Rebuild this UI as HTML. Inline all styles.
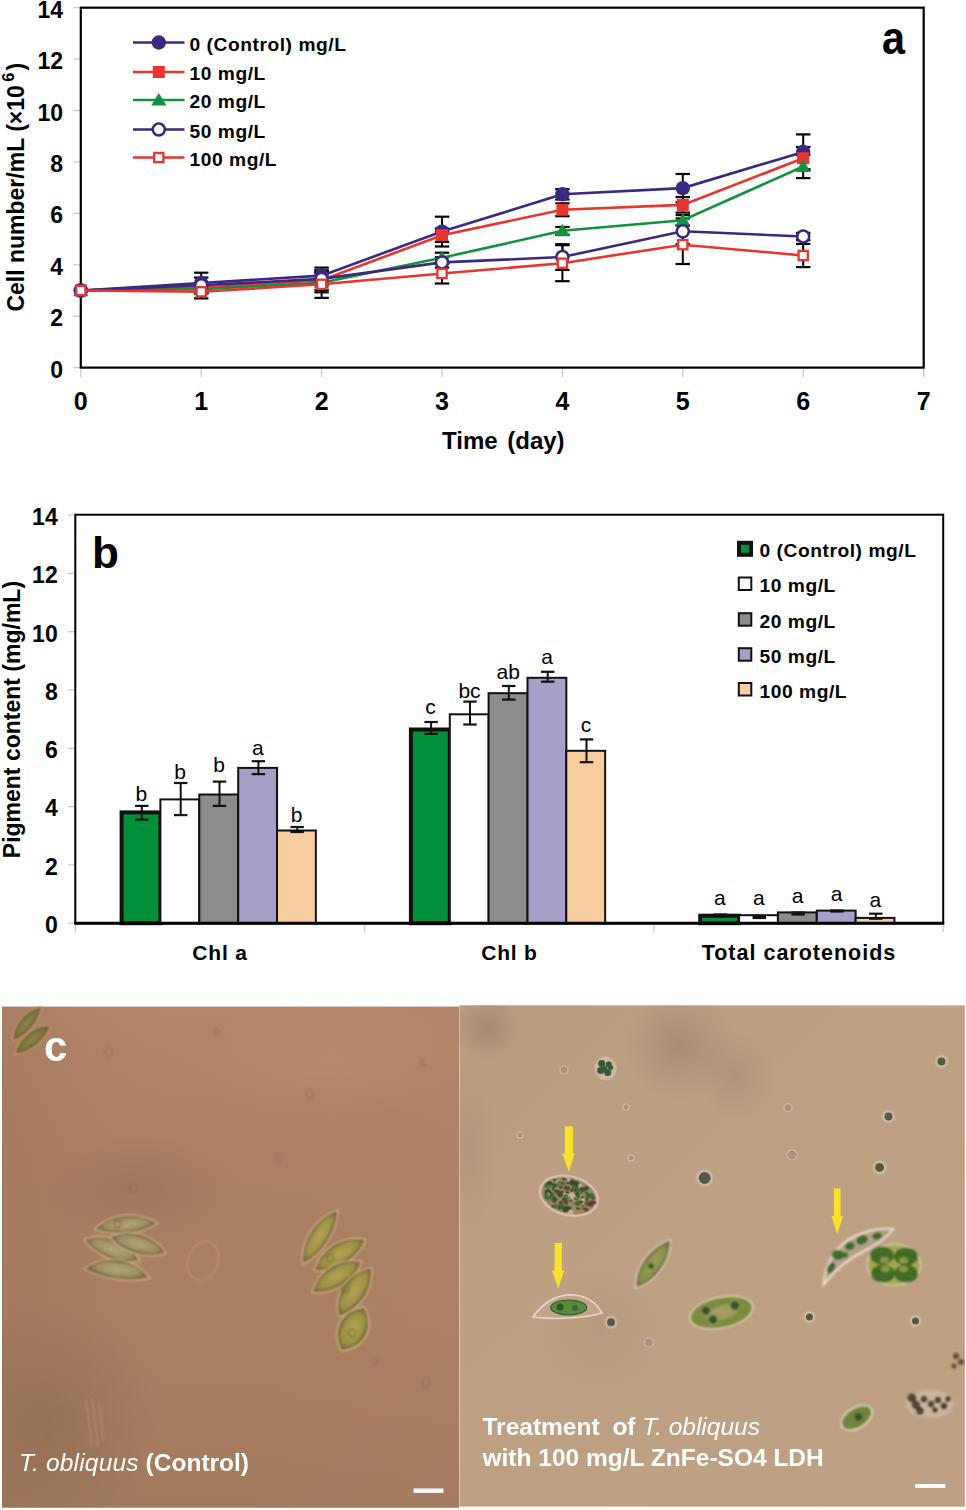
<!DOCTYPE html>
<html><head><meta charset="utf-8"><style>
html,body{margin:0;padding:0;background:#fff;width:966px;height:1510px;overflow:hidden}
svg{display:block}
.tb{font-family:"Liberation Sans",sans-serif;font-weight:bold}
.tr{font-family:"Liberation Sans",sans-serif}
</style></head><body>
<svg width="966" height="1510" viewBox="0 0 966 1510">
<defs>
<clipPath id="clipL"><rect x="2" y="1006.5" width="457.3" height="501.3"/></clipPath>
<clipPath id="clipR"><rect x="459.3" y="1005.2" width="505.6" height="501.6"/></clipPath>
<linearGradient id="glv" x1="0" y1="0" x2="0" y2="1"><stop offset="0" stop-color="#b88a6c" stop-opacity="0.6"/><stop offset="0.5" stop-color="#aa8062" stop-opacity="0"/><stop offset="1" stop-color="#9c7658" stop-opacity="0.6"/></linearGradient>
<linearGradient id="glh" x1="0" y1="0" x2="1" y2="0"><stop offset="0" stop-color="#90684c" stop-opacity="0.25"/><stop offset="0.4" stop-color="#aa8062" stop-opacity="0"/><stop offset="1" stop-color="#b08468" stop-opacity="0.2"/></linearGradient>
<linearGradient id="grv" x1="0" y1="0" x2="1" y2="1"><stop offset="0" stop-color="#b09070" stop-opacity="0.3"/><stop offset="0.5" stop-color="#bb9d7f" stop-opacity="0"/><stop offset="1" stop-color="#c0a284" stop-opacity="0.3"/></linearGradient>
<radialGradient id="rdark"><stop offset="0" stop-color="#7a5a40" stop-opacity="1"/><stop offset="1" stop-color="#7a5a40" stop-opacity="0"/></radialGradient>
<radialGradient id="rlight"><stop offset="0" stop-color="#c89a78" stop-opacity="1"/><stop offset="1" stop-color="#c89a78" stop-opacity="0"/></radialGradient>
<radialGradient id="rdark2"><stop offset="0" stop-color="#8a7560" stop-opacity="1"/><stop offset="1" stop-color="#8a7560" stop-opacity="0"/></radialGradient>
<radialGradient id="cg3"><stop offset="0" stop-color="#a0a060"/><stop offset="0.7" stop-color="#889048"/><stop offset="1" stop-color="#5a6a30"/></radialGradient>
<radialGradient id="cg0"><stop offset="0" stop-color="#8e8644"/><stop offset="0.7" stop-color="#7a7440"/><stop offset="1" stop-color="#5e5836"/></radialGradient>
<radialGradient id="cg1"><stop offset="0" stop-color="#b4a47a"/><stop offset="0.7" stop-color="#9e9060"/><stop offset="1" stop-color="#6e6444"/></radialGradient>
<radialGradient id="cg2"><stop offset="0" stop-color="#b4a452"/><stop offset="0.7" stop-color="#9c9244"/><stop offset="1" stop-color="#646030"/></radialGradient>
<filter id="b20" x="-50%" y="-50%" width="200%" height="200%"><feGaussianBlur stdDeviation="20"/></filter>
<filter id="b12" x="-50%" y="-50%" width="200%" height="200%"><feGaussianBlur stdDeviation="12"/></filter>
<filter id="b1" x="-50%" y="-50%" width="200%" height="200%"><feGaussianBlur stdDeviation="1"/></filter>
<filter id="b08" x="-20%" y="-20%" width="140%" height="140%"><feGaussianBlur stdDeviation="0.8"/></filter>
<filter id="b06" x="-20%" y="-20%" width="140%" height="140%"><feGaussianBlur stdDeviation="0.6"/></filter>
</defs>
<g id="chartA">
<line x1="73.5" y1="367.6" x2="80" y2="367.6" stroke="#c8c8c8" stroke-width="1.2"/>
<text x="63" y="377.7" text-anchor="end" class="tb" font-size="23">0</text>
<line x1="73.5" y1="316.2" x2="80" y2="316.2" stroke="#c8c8c8" stroke-width="1.2"/>
<text x="63" y="326.3" text-anchor="end" class="tb" font-size="23">2</text>
<line x1="73.5" y1="264.8" x2="80" y2="264.8" stroke="#c8c8c8" stroke-width="1.2"/>
<text x="63" y="274.9" text-anchor="end" class="tb" font-size="23">4</text>
<line x1="73.5" y1="213.3" x2="80" y2="213.3" stroke="#c8c8c8" stroke-width="1.2"/>
<text x="63" y="223.4" text-anchor="end" class="tb" font-size="23">6</text>
<line x1="73.5" y1="161.9" x2="80" y2="161.9" stroke="#c8c8c8" stroke-width="1.2"/>
<text x="63" y="172.0" text-anchor="end" class="tb" font-size="23">8</text>
<line x1="73.5" y1="110.5" x2="80" y2="110.5" stroke="#c8c8c8" stroke-width="1.2"/>
<text x="63" y="120.6" text-anchor="end" class="tb" font-size="23">10</text>
<line x1="73.5" y1="59.1" x2="80" y2="59.1" stroke="#c8c8c8" stroke-width="1.2"/>
<text x="63" y="69.2" text-anchor="end" class="tb" font-size="23">12</text>
<line x1="73.5" y1="7.7" x2="80" y2="7.7" stroke="#c8c8c8" stroke-width="1.2"/>
<text x="63" y="17.8" text-anchor="end" class="tb" font-size="23">14</text>
<line x1="80.8" y1="369" x2="80.8" y2="377" stroke="#c8c8c8" stroke-width="1.2"/>
<text x="80.8" y="409.5" text-anchor="middle" class="tb" font-size="25">0</text>
<line x1="201.2" y1="369" x2="201.2" y2="377" stroke="#c8c8c8" stroke-width="1.2"/>
<text x="201.2" y="409.5" text-anchor="middle" class="tb" font-size="25">1</text>
<line x1="321.6" y1="369" x2="321.6" y2="377" stroke="#c8c8c8" stroke-width="1.2"/>
<text x="321.6" y="409.5" text-anchor="middle" class="tb" font-size="25">2</text>
<line x1="442.0" y1="369" x2="442.0" y2="377" stroke="#c8c8c8" stroke-width="1.2"/>
<text x="442.0" y="409.5" text-anchor="middle" class="tb" font-size="25">3</text>
<line x1="562.4" y1="369" x2="562.4" y2="377" stroke="#c8c8c8" stroke-width="1.2"/>
<text x="562.4" y="409.5" text-anchor="middle" class="tb" font-size="25">4</text>
<line x1="682.8" y1="369" x2="682.8" y2="377" stroke="#c8c8c8" stroke-width="1.2"/>
<text x="682.8" y="409.5" text-anchor="middle" class="tb" font-size="25">5</text>
<line x1="803.2" y1="369" x2="803.2" y2="377" stroke="#c8c8c8" stroke-width="1.2"/>
<text x="803.2" y="409.5" text-anchor="middle" class="tb" font-size="25">6</text>
<line x1="923.6" y1="369" x2="923.6" y2="377" stroke="#c8c8c8" stroke-width="1.2"/>
<text x="923.6" y="409.5" text-anchor="middle" class="tb" font-size="25">7</text>
<rect x="80.8" y="7.7" width="842.9" height="359.9" fill="none" stroke="#000" stroke-width="2.2"/>
<text transform="translate(882,54) scale(0.9,1)" class="tb" font-size="46">a</text>
<text x="442" y="449.2" class="tb" font-size="24">Time <tspan dx="3">(day)</tspan></text>
<text transform="translate(24.4,311.6) rotate(-90)" class="tb" font-size="23">Cell number/mL (×10<tspan font-size="16.5" dx="3.5" dy="-10.5">6</tspan><tspan dx="2" dy="10.5">)</tspan></text>
<line x1="201.2" y1="272.7" x2="201.2" y2="293.3" stroke="#000" stroke-width="2"/>
<line x1="194.0" y1="272.7" x2="208.4" y2="272.7" stroke="#000" stroke-width="2.2"/>
<line x1="194.0" y1="293.3" x2="208.4" y2="293.3" stroke="#000" stroke-width="2.2"/>
<line x1="321.6" y1="267.6" x2="321.6" y2="283.5" stroke="#000" stroke-width="2"/>
<line x1="314.4" y1="267.6" x2="328.8" y2="267.6" stroke="#000" stroke-width="2.2"/>
<line x1="314.4" y1="283.5" x2="328.8" y2="283.5" stroke="#000" stroke-width="2.2"/>
<line x1="442.0" y1="216.7" x2="442.0" y2="246.5" stroke="#000" stroke-width="2"/>
<line x1="434.8" y1="216.7" x2="449.2" y2="216.7" stroke="#000" stroke-width="2.2"/>
<line x1="434.8" y1="246.5" x2="449.2" y2="246.5" stroke="#000" stroke-width="2.2"/>
<line x1="562.4" y1="189.2" x2="562.4" y2="199.5" stroke="#000" stroke-width="2"/>
<line x1="555.2" y1="189.2" x2="569.6" y2="189.2" stroke="#000" stroke-width="2.2"/>
<line x1="555.2" y1="199.5" x2="569.6" y2="199.5" stroke="#000" stroke-width="2.2"/>
<line x1="682.8" y1="174.0" x2="682.8" y2="202.3" stroke="#000" stroke-width="2"/>
<line x1="675.6" y1="174.0" x2="690.0" y2="174.0" stroke="#000" stroke-width="2.2"/>
<line x1="675.6" y1="202.3" x2="690.0" y2="202.3" stroke="#000" stroke-width="2.2"/>
<line x1="803.2" y1="134.4" x2="803.2" y2="169.4" stroke="#000" stroke-width="2"/>
<line x1="796.0" y1="134.4" x2="810.4" y2="134.4" stroke="#000" stroke-width="2.2"/>
<line x1="796.0" y1="169.4" x2="810.4" y2="169.4" stroke="#000" stroke-width="2.2"/>
<line x1="201.2" y1="284.0" x2="201.2" y2="291.8" stroke="#000" stroke-width="2"/>
<line x1="194.0" y1="284.0" x2="208.4" y2="284.0" stroke="#000" stroke-width="2.2"/>
<line x1="194.0" y1="291.8" x2="208.4" y2="291.8" stroke="#000" stroke-width="2.2"/>
<line x1="321.6" y1="270.4" x2="321.6" y2="290.0" stroke="#000" stroke-width="2"/>
<line x1="314.4" y1="270.4" x2="328.8" y2="270.4" stroke="#000" stroke-width="2.2"/>
<line x1="314.4" y1="290.0" x2="328.8" y2="290.0" stroke="#000" stroke-width="2.2"/>
<line x1="442.0" y1="228.5" x2="442.0" y2="241.9" stroke="#000" stroke-width="2"/>
<line x1="434.8" y1="228.5" x2="449.2" y2="228.5" stroke="#000" stroke-width="2.2"/>
<line x1="434.8" y1="241.9" x2="449.2" y2="241.9" stroke="#000" stroke-width="2.2"/>
<line x1="562.4" y1="203.3" x2="562.4" y2="216.2" stroke="#000" stroke-width="2"/>
<line x1="555.2" y1="203.3" x2="569.6" y2="203.3" stroke="#000" stroke-width="2.2"/>
<line x1="555.2" y1="216.2" x2="569.6" y2="216.2" stroke="#000" stroke-width="2.2"/>
<line x1="682.8" y1="197.1" x2="682.8" y2="212.6" stroke="#000" stroke-width="2"/>
<line x1="675.6" y1="197.1" x2="690.0" y2="197.1" stroke="#000" stroke-width="2.2"/>
<line x1="675.6" y1="212.6" x2="690.0" y2="212.6" stroke="#000" stroke-width="2.2"/>
<line x1="803.2" y1="147.0" x2="803.2" y2="169.6" stroke="#000" stroke-width="2"/>
<line x1="796.0" y1="147.0" x2="810.4" y2="147.0" stroke="#000" stroke-width="2.2"/>
<line x1="796.0" y1="169.6" x2="810.4" y2="169.6" stroke="#000" stroke-width="2.2"/>
<line x1="201.2" y1="286.6" x2="201.2" y2="291.8" stroke="#000" stroke-width="2"/>
<line x1="194.0" y1="286.6" x2="208.4" y2="286.6" stroke="#000" stroke-width="2.2"/>
<line x1="194.0" y1="291.8" x2="208.4" y2="291.8" stroke="#000" stroke-width="2.2"/>
<line x1="321.6" y1="273.2" x2="321.6" y2="292.3" stroke="#000" stroke-width="2"/>
<line x1="314.4" y1="273.2" x2="328.8" y2="273.2" stroke="#000" stroke-width="2.2"/>
<line x1="314.4" y1="292.3" x2="328.8" y2="292.3" stroke="#000" stroke-width="2.2"/>
<line x1="442.0" y1="252.7" x2="442.0" y2="263.0" stroke="#000" stroke-width="2"/>
<line x1="434.8" y1="252.7" x2="449.2" y2="252.7" stroke="#000" stroke-width="2.2"/>
<line x1="434.8" y1="263.0" x2="449.2" y2="263.0" stroke="#000" stroke-width="2.2"/>
<line x1="562.4" y1="227.0" x2="562.4" y2="234.7" stroke="#000" stroke-width="2"/>
<line x1="555.2" y1="227.0" x2="569.6" y2="227.0" stroke="#000" stroke-width="2.2"/>
<line x1="555.2" y1="234.7" x2="569.6" y2="234.7" stroke="#000" stroke-width="2.2"/>
<line x1="682.8" y1="215.1" x2="682.8" y2="225.4" stroke="#000" stroke-width="2"/>
<line x1="675.6" y1="215.1" x2="690.0" y2="215.1" stroke="#000" stroke-width="2.2"/>
<line x1="675.6" y1="225.4" x2="690.0" y2="225.4" stroke="#000" stroke-width="2.2"/>
<line x1="803.2" y1="155.0" x2="803.2" y2="178.1" stroke="#000" stroke-width="2"/>
<line x1="796.0" y1="155.0" x2="810.4" y2="155.0" stroke="#000" stroke-width="2.2"/>
<line x1="796.0" y1="178.1" x2="810.4" y2="178.1" stroke="#000" stroke-width="2.2"/>
<line x1="201.2" y1="277.6" x2="201.2" y2="293.0" stroke="#000" stroke-width="2"/>
<line x1="194.0" y1="277.6" x2="208.4" y2="277.6" stroke="#000" stroke-width="2.2"/>
<line x1="194.0" y1="293.0" x2="208.4" y2="293.0" stroke="#000" stroke-width="2.2"/>
<line x1="321.6" y1="272.5" x2="321.6" y2="285.3" stroke="#000" stroke-width="2"/>
<line x1="314.4" y1="272.5" x2="328.8" y2="272.5" stroke="#000" stroke-width="2.2"/>
<line x1="314.4" y1="285.3" x2="328.8" y2="285.3" stroke="#000" stroke-width="2.2"/>
<line x1="442.0" y1="257.3" x2="442.0" y2="267.6" stroke="#000" stroke-width="2"/>
<line x1="434.8" y1="257.3" x2="449.2" y2="257.3" stroke="#000" stroke-width="2.2"/>
<line x1="434.8" y1="267.6" x2="449.2" y2="267.6" stroke="#000" stroke-width="2.2"/>
<line x1="562.4" y1="244.2" x2="562.4" y2="269.9" stroke="#000" stroke-width="2"/>
<line x1="555.2" y1="244.2" x2="569.6" y2="244.2" stroke="#000" stroke-width="2.2"/>
<line x1="555.2" y1="269.9" x2="569.6" y2="269.9" stroke="#000" stroke-width="2.2"/>
<line x1="682.8" y1="218.5" x2="682.8" y2="244.2" stroke="#000" stroke-width="2"/>
<line x1="675.6" y1="218.5" x2="690.0" y2="218.5" stroke="#000" stroke-width="2.2"/>
<line x1="675.6" y1="244.2" x2="690.0" y2="244.2" stroke="#000" stroke-width="2.2"/>
<line x1="803.2" y1="232.9" x2="803.2" y2="240.1" stroke="#000" stroke-width="2"/>
<line x1="796.0" y1="232.9" x2="810.4" y2="232.9" stroke="#000" stroke-width="2.2"/>
<line x1="796.0" y1="240.1" x2="810.4" y2="240.1" stroke="#000" stroke-width="2.2"/>
<line x1="201.2" y1="285.1" x2="201.2" y2="298.4" stroke="#000" stroke-width="2"/>
<line x1="194.0" y1="285.1" x2="208.4" y2="285.1" stroke="#000" stroke-width="2.2"/>
<line x1="194.0" y1="298.4" x2="208.4" y2="298.4" stroke="#000" stroke-width="2.2"/>
<line x1="321.6" y1="270.7" x2="321.6" y2="297.9" stroke="#000" stroke-width="2"/>
<line x1="314.4" y1="270.7" x2="328.8" y2="270.7" stroke="#000" stroke-width="2.2"/>
<line x1="314.4" y1="297.9" x2="328.8" y2="297.9" stroke="#000" stroke-width="2.2"/>
<line x1="442.0" y1="263.5" x2="442.0" y2="283.5" stroke="#000" stroke-width="2"/>
<line x1="434.8" y1="263.5" x2="449.2" y2="263.5" stroke="#000" stroke-width="2.2"/>
<line x1="434.8" y1="283.5" x2="449.2" y2="283.5" stroke="#000" stroke-width="2.2"/>
<line x1="562.4" y1="245.2" x2="562.4" y2="281.2" stroke="#000" stroke-width="2"/>
<line x1="555.2" y1="245.2" x2="569.6" y2="245.2" stroke="#000" stroke-width="2.2"/>
<line x1="555.2" y1="281.2" x2="569.6" y2="281.2" stroke="#000" stroke-width="2.2"/>
<line x1="682.8" y1="225.4" x2="682.8" y2="264.0" stroke="#000" stroke-width="2"/>
<line x1="675.6" y1="225.4" x2="690.0" y2="225.4" stroke="#000" stroke-width="2.2"/>
<line x1="675.6" y1="264.0" x2="690.0" y2="264.0" stroke="#000" stroke-width="2.2"/>
<line x1="803.2" y1="243.9" x2="803.2" y2="267.1" stroke="#000" stroke-width="2"/>
<line x1="796.0" y1="243.9" x2="810.4" y2="243.9" stroke="#000" stroke-width="2.2"/>
<line x1="796.0" y1="267.1" x2="810.4" y2="267.1" stroke="#000" stroke-width="2.2"/>
<polyline points="80.8,290.5 201.2,283.0 321.6,275.6 442.0,231.6 562.4,194.3 682.8,188.1 803.2,151.9" fill="none" stroke="#3c2880" stroke-width="2.6"/>
<circle cx="80.8" cy="290.5" r="7.2" fill="#3c2880"/>
<circle cx="201.2" cy="283.0" r="7.2" fill="#3c2880"/>
<circle cx="321.6" cy="275.6" r="7.2" fill="#3c2880"/>
<circle cx="442.0" cy="231.6" r="7.2" fill="#3c2880"/>
<circle cx="562.4" cy="194.3" r="7.2" fill="#3c2880"/>
<circle cx="682.8" cy="188.1" r="7.2" fill="#3c2880"/>
<circle cx="803.2" cy="151.9" r="7.2" fill="#3c2880"/>
<polyline points="80.8,290.5 201.2,287.9 321.6,280.2 442.0,235.2 562.4,209.7 682.8,204.9 803.2,158.3" fill="none" stroke="#e8352f" stroke-width="2.6"/>
<rect x="74.8" y="284.5" width="12" height="12" fill="#e8352f"/>
<rect x="195.2" y="281.9" width="12" height="12" fill="#e8352f"/>
<rect x="315.6" y="274.2" width="12" height="12" fill="#e8352f"/>
<rect x="436.0" y="229.2" width="12" height="12" fill="#e8352f"/>
<rect x="556.4" y="203.7" width="12" height="12" fill="#e8352f"/>
<rect x="676.8" y="198.9" width="12" height="12" fill="#e8352f"/>
<rect x="797.2" y="152.3" width="12" height="12" fill="#e8352f"/>
<polyline points="80.8,290.5 201.2,289.2 321.6,282.8 442.0,257.8 562.4,230.8 682.8,220.3 803.2,166.5" fill="none" stroke="#10923f" stroke-width="2.6"/>
<path d="M80.8,283.5 L88.3,296.0 L73.3,296.0Z" fill="#10923f"/>
<path d="M201.2,282.2 L208.7,294.7 L193.7,294.7Z" fill="#10923f"/>
<path d="M321.6,275.8 L329.1,288.3 L314.1,288.3Z" fill="#10923f"/>
<path d="M442.0,250.8 L449.5,263.3 L434.5,263.3Z" fill="#10923f"/>
<path d="M562.4,223.8 L569.9,236.3 L554.9,236.3Z" fill="#10923f"/>
<path d="M682.8,213.3 L690.3,225.8 L675.3,225.8Z" fill="#10923f"/>
<path d="M803.2,159.5 L810.7,172.0 L795.7,172.0Z" fill="#10923f"/>
<polyline points="80.8,290.5 201.2,285.3 321.6,278.9 442.0,262.4 562.4,257.0 682.8,231.3 803.2,236.5" fill="none" stroke="#3c2880" stroke-width="2.6"/>
<circle cx="80.8" cy="290.5" r="6.0" fill="#fff" stroke="#3c2880" stroke-width="2.5"/>
<circle cx="201.2" cy="285.3" r="6.0" fill="#fff" stroke="#3c2880" stroke-width="2.5"/>
<circle cx="321.6" cy="278.9" r="6.0" fill="#fff" stroke="#3c2880" stroke-width="2.5"/>
<circle cx="442.0" cy="262.4" r="6.0" fill="#fff" stroke="#3c2880" stroke-width="2.5"/>
<circle cx="562.4" cy="257.0" r="6.0" fill="#fff" stroke="#3c2880" stroke-width="2.5"/>
<circle cx="682.8" cy="231.3" r="6.0" fill="#fff" stroke="#3c2880" stroke-width="2.5"/>
<circle cx="803.2" cy="236.5" r="6.0" fill="#fff" stroke="#3c2880" stroke-width="2.5"/>
<polyline points="80.8,290.5 201.2,291.8 321.6,284.3 442.0,273.5 562.4,263.2 682.8,244.7 803.2,255.5" fill="none" stroke="#e8352f" stroke-width="2.6"/>
<rect x="76.2" y="285.9" width="9.2" height="9.2" fill="#fff" stroke="#e8352f" stroke-width="2.3"/>
<rect x="196.6" y="287.2" width="9.2" height="9.2" fill="#fff" stroke="#e8352f" stroke-width="2.3"/>
<rect x="317.0" y="279.7" width="9.2" height="9.2" fill="#fff" stroke="#e8352f" stroke-width="2.3"/>
<rect x="437.4" y="268.9" width="9.2" height="9.2" fill="#fff" stroke="#e8352f" stroke-width="2.3"/>
<rect x="557.8" y="258.6" width="9.2" height="9.2" fill="#fff" stroke="#e8352f" stroke-width="2.3"/>
<rect x="678.2" y="240.1" width="9.2" height="9.2" fill="#fff" stroke="#e8352f" stroke-width="2.3"/>
<rect x="798.6" y="250.9" width="9.2" height="9.2" fill="#fff" stroke="#e8352f" stroke-width="2.3"/>
<line x1="133" y1="42.5" x2="184.5" y2="42.5" stroke="#3c2880" stroke-width="2.4"/>
<circle cx="158.8" cy="42.5" r="7.2" fill="#3c2880"/>
<text x="189.5" y="50.9" class="tb" font-size="19.2" letter-spacing="0.55">0 (Control) mg/L</text>
<line x1="133" y1="72" x2="184.5" y2="72" stroke="#e8352f" stroke-width="2.4"/>
<rect x="152.8" y="66.0" width="12" height="12" fill="#e8352f"/>
<text x="189.5" y="80.4" class="tb" font-size="19.2" letter-spacing="0.55">10 mg/L</text>
<line x1="133" y1="100" x2="184.5" y2="100" stroke="#10923f" stroke-width="2.4"/>
<path d="M158.8,93.0 L166.3,105.5 L151.3,105.5Z" fill="#10923f"/>
<text x="189.5" y="108.4" class="tb" font-size="19.2" letter-spacing="0.55">20 mg/L</text>
<line x1="133" y1="129.5" x2="184.5" y2="129.5" stroke="#3c2880" stroke-width="2.4"/>
<circle cx="158.8" cy="129.5" r="6.0" fill="#fff" stroke="#3c2880" stroke-width="2.5"/>
<text x="189.5" y="137.9" class="tb" font-size="19.2" letter-spacing="0.55">50 mg/L</text>
<line x1="133" y1="157.5" x2="184.5" y2="157.5" stroke="#e8352f" stroke-width="2.4"/>
<rect x="154.2" y="152.9" width="9.2" height="9.2" fill="#fff" stroke="#e8352f" stroke-width="2.3"/>
<text x="189.5" y="165.9" class="tb" font-size="19.2" letter-spacing="0.55">100 mg/L</text>
</g>
<g id="chartB">
<line x1="68" y1="923.2" x2="75" y2="923.2" stroke="#c8c8c8" stroke-width="1.2"/>
<text x="57.7" y="933.0" text-anchor="end" class="tb" font-size="23">0</text>
<line x1="68" y1="864.9" x2="75" y2="864.9" stroke="#c8c8c8" stroke-width="1.2"/>
<text x="57.7" y="874.7" text-anchor="end" class="tb" font-size="23">2</text>
<line x1="68" y1="806.6" x2="75" y2="806.6" stroke="#c8c8c8" stroke-width="1.2"/>
<text x="57.7" y="816.4" text-anchor="end" class="tb" font-size="23">4</text>
<line x1="68" y1="748.3" x2="75" y2="748.3" stroke="#c8c8c8" stroke-width="1.2"/>
<text x="57.7" y="758.1" text-anchor="end" class="tb" font-size="23">6</text>
<line x1="68" y1="690.0" x2="75" y2="690.0" stroke="#c8c8c8" stroke-width="1.2"/>
<text x="57.7" y="699.8" text-anchor="end" class="tb" font-size="23">8</text>
<line x1="68" y1="631.7" x2="75" y2="631.7" stroke="#c8c8c8" stroke-width="1.2"/>
<text x="57.7" y="641.5" text-anchor="end" class="tb" font-size="23">10</text>
<line x1="68" y1="573.4" x2="75" y2="573.4" stroke="#c8c8c8" stroke-width="1.2"/>
<text x="57.7" y="583.2" text-anchor="end" class="tb" font-size="23">12</text>
<line x1="68" y1="515.1" x2="75" y2="515.1" stroke="#c8c8c8" stroke-width="1.2"/>
<text x="57.7" y="524.9" text-anchor="end" class="tb" font-size="23">14</text>
<line x1="75.3" y1="924" x2="75.3" y2="932" stroke="#c8c8c8" stroke-width="1.2"/>
<line x1="364.6" y1="924" x2="364.6" y2="932" stroke="#c8c8c8" stroke-width="1.2"/>
<line x1="653.9" y1="924" x2="653.9" y2="932" stroke="#c8c8c8" stroke-width="1.2"/>
<line x1="943.2" y1="924" x2="943.2" y2="932" stroke="#c8c8c8" stroke-width="1.2"/>
<rect x="121.6" y="812.4" width="38.85" height="110.8" fill="#00903a" stroke="#111" stroke-width="4"/>
<rect x="160.4" y="799.4" width="38.85" height="123.8" fill="#ffffff" stroke="#111" stroke-width="2"/>
<rect x="199.3" y="794.5" width="38.85" height="128.7" fill="#8c8c8a" stroke="#111" stroke-width="2"/>
<rect x="238.2" y="767.9" width="38.85" height="155.3" fill="#a59fca" stroke="#111" stroke-width="2"/>
<rect x="277.0" y="830.5" width="38.85" height="92.7" fill="#f7cda0" stroke="#111" stroke-width="2"/>
<line x1="141.8" y1="805.9" x2="141.8" y2="819.6" stroke="#111" stroke-width="2"/>
<line x1="135.1" y1="805.9" x2="148.5" y2="805.9" stroke="#111" stroke-width="2.2"/>
<line x1="135.1" y1="819.6" x2="148.5" y2="819.6" stroke="#111" stroke-width="2.2"/>
<text x="141.3" y="801.0" text-anchor="middle" class="tr" font-size="21">b</text>
<line x1="180.7" y1="783.0" x2="180.7" y2="815.1" stroke="#111" stroke-width="2"/>
<line x1="174.0" y1="783.0" x2="187.4" y2="783.0" stroke="#111" stroke-width="2.2"/>
<line x1="174.0" y1="815.1" x2="187.4" y2="815.1" stroke="#111" stroke-width="2.2"/>
<text x="180.2" y="778.6" text-anchor="middle" class="tr" font-size="21">b</text>
<line x1="219.5" y1="781.6" x2="219.5" y2="805.9" stroke="#111" stroke-width="2"/>
<line x1="212.8" y1="781.6" x2="226.2" y2="781.6" stroke="#111" stroke-width="2.2"/>
<line x1="212.8" y1="805.9" x2="226.2" y2="805.9" stroke="#111" stroke-width="2.2"/>
<text x="219.0" y="771.9" text-anchor="middle" class="tr" font-size="21">b</text>
<line x1="258.4" y1="761.2" x2="258.4" y2="774.1" stroke="#111" stroke-width="2"/>
<line x1="251.7" y1="761.2" x2="265.1" y2="761.2" stroke="#111" stroke-width="2.2"/>
<line x1="251.7" y1="774.1" x2="265.1" y2="774.1" stroke="#111" stroke-width="2.2"/>
<text x="257.9" y="755.0" text-anchor="middle" class="tr" font-size="21">a</text>
<line x1="297.2" y1="827.0" x2="297.2" y2="832.0" stroke="#111" stroke-width="2"/>
<line x1="290.5" y1="827.0" x2="303.9" y2="827.0" stroke="#111" stroke-width="2.2"/>
<line x1="290.5" y1="832.0" x2="303.9" y2="832.0" stroke="#111" stroke-width="2.2"/>
<text x="296.7" y="822.0" text-anchor="middle" class="tr" font-size="21">b</text>
<rect x="410.9" y="729.5" width="38.85" height="193.7" fill="#00903a" stroke="#111" stroke-width="4"/>
<rect x="449.8" y="714.3" width="38.85" height="208.9" fill="#ffffff" stroke="#111" stroke-width="2"/>
<rect x="488.6" y="693.2" width="38.85" height="230.0" fill="#8c8c8a" stroke="#111" stroke-width="2"/>
<rect x="527.5" y="677.8" width="38.85" height="245.4" fill="#a59fca" stroke="#111" stroke-width="2"/>
<rect x="566.3" y="750.8" width="38.85" height="172.4" fill="#f7cda0" stroke="#111" stroke-width="2"/>
<line x1="431.1" y1="722.0" x2="431.1" y2="733.9" stroke="#111" stroke-width="2"/>
<line x1="424.4" y1="722.0" x2="437.8" y2="722.0" stroke="#111" stroke-width="2.2"/>
<line x1="424.4" y1="733.9" x2="437.8" y2="733.9" stroke="#111" stroke-width="2.2"/>
<text x="430.6" y="713.8" text-anchor="middle" class="tr" font-size="21">c</text>
<line x1="470.0" y1="701.6" x2="470.0" y2="724.5" stroke="#111" stroke-width="2"/>
<line x1="463.3" y1="701.6" x2="476.7" y2="701.6" stroke="#111" stroke-width="2.2"/>
<line x1="463.3" y1="724.5" x2="476.7" y2="724.5" stroke="#111" stroke-width="2.2"/>
<text x="469.5" y="697.6" text-anchor="middle" class="tr" font-size="21">bc</text>
<line x1="508.8" y1="686.0" x2="508.8" y2="699.6" stroke="#111" stroke-width="2"/>
<line x1="502.1" y1="686.0" x2="515.5" y2="686.0" stroke="#111" stroke-width="2.2"/>
<line x1="502.1" y1="699.6" x2="515.5" y2="699.6" stroke="#111" stroke-width="2.2"/>
<text x="508.3" y="678.5" text-anchor="middle" class="tr" font-size="21">ab</text>
<line x1="547.7" y1="671.8" x2="547.7" y2="681.7" stroke="#111" stroke-width="2"/>
<line x1="541.0" y1="671.8" x2="554.4" y2="671.8" stroke="#111" stroke-width="2.2"/>
<line x1="541.0" y1="681.7" x2="554.4" y2="681.7" stroke="#111" stroke-width="2.2"/>
<text x="547.2" y="664.1" text-anchor="middle" class="tr" font-size="21">a</text>
<line x1="586.5" y1="739.4" x2="586.5" y2="762.2" stroke="#111" stroke-width="2"/>
<line x1="579.8" y1="739.4" x2="593.2" y2="739.4" stroke="#111" stroke-width="2.2"/>
<line x1="579.8" y1="762.2" x2="593.2" y2="762.2" stroke="#111" stroke-width="2.2"/>
<text x="586.0" y="732.0" text-anchor="middle" class="tr" font-size="21">c</text>
<rect x="700.2" y="915.7" width="38.85" height="7.5" fill="#00903a" stroke="#111" stroke-width="4"/>
<rect x="739.1" y="915.2" width="38.85" height="8.0" fill="#ffffff" stroke="#111" stroke-width="2"/>
<rect x="777.9" y="912.4" width="38.85" height="10.8" fill="#8c8c8a" stroke="#111" stroke-width="2"/>
<rect x="816.8" y="910.6" width="38.85" height="12.6" fill="#a59fca" stroke="#111" stroke-width="2"/>
<rect x="855.6" y="917.9" width="38.85" height="5.3" fill="#f7cda0" stroke="#111" stroke-width="2"/>
<line x1="720.4" y1="914.5" x2="720.4" y2="916.5" stroke="#111" stroke-width="2"/>
<line x1="713.7" y1="914.5" x2="727.1" y2="914.5" stroke="#111" stroke-width="2.2"/>
<line x1="713.7" y1="916.5" x2="727.1" y2="916.5" stroke="#111" stroke-width="2.2"/>
<text x="719.9" y="904.6" text-anchor="middle" class="tr" font-size="21">a</text>
<line x1="759.3" y1="916.0" x2="759.3" y2="918.0" stroke="#111" stroke-width="2"/>
<line x1="752.6" y1="916.0" x2="766.0" y2="916.0" stroke="#111" stroke-width="2.2"/>
<line x1="752.6" y1="918.0" x2="766.0" y2="918.0" stroke="#111" stroke-width="2.2"/>
<text x="758.8" y="904.6" text-anchor="middle" class="tr" font-size="21">a</text>
<line x1="798.1" y1="912.5" x2="798.1" y2="914.5" stroke="#111" stroke-width="2"/>
<line x1="791.4" y1="912.5" x2="804.8" y2="912.5" stroke="#111" stroke-width="2.2"/>
<line x1="791.4" y1="914.5" x2="804.8" y2="914.5" stroke="#111" stroke-width="2.2"/>
<text x="797.6" y="902.8" text-anchor="middle" class="tr" font-size="21">a</text>
<line x1="837.0" y1="910.5" x2="837.0" y2="911.5" stroke="#111" stroke-width="2"/>
<line x1="830.3" y1="910.5" x2="843.7" y2="910.5" stroke="#111" stroke-width="2.2"/>
<line x1="830.3" y1="911.5" x2="843.7" y2="911.5" stroke="#111" stroke-width="2.2"/>
<text x="836.5" y="901.0" text-anchor="middle" class="tr" font-size="21">a</text>
<line x1="875.8" y1="913.7" x2="875.8" y2="918.7" stroke="#111" stroke-width="2"/>
<line x1="869.1" y1="913.7" x2="882.5" y2="913.7" stroke="#111" stroke-width="2.2"/>
<line x1="869.1" y1="918.7" x2="882.5" y2="918.7" stroke="#111" stroke-width="2.2"/>
<text x="875.3" y="906.9" text-anchor="middle" class="tr" font-size="21">a</text>
<rect x="75.3" y="514.7" width="867.9" height="408.5" fill="none" stroke="#000" stroke-width="2"/>
<line x1="74.3" y1="923.2" x2="944.2" y2="923.2" stroke="#000" stroke-width="3"/>
<text x="92" y="567.5" class="tb" font-size="44">b</text>
<text x="220" y="960" text-anchor="middle" class="tb" font-size="21" letter-spacing="0.8">Chl a</text>
<text x="509.5" y="960" text-anchor="middle" class="tb" font-size="21" letter-spacing="0.8">Chl b</text>
<text x="799" y="960" text-anchor="middle" class="tb" font-size="21.5" letter-spacing="1">Total carotenoids</text>
<text transform="translate(20.2,858.2) rotate(-90)" class="tb" font-size="23">Pigment content (mg/mL)</text>
<rect x="739.0" y="542.8" width="12.0" height="12.0" fill="#00903a" stroke="#111" stroke-width="4"/>
<text x="759.5" y="557.4" class="tb" font-size="19.2" letter-spacing="0.55">0 (Control) mg/L</text>
<rect x="738.8" y="577.5" width="12.5" height="12.5" fill="#ffffff" stroke="#111" stroke-width="2"/>
<text x="759.5" y="592.4" class="tb" font-size="19.2" letter-spacing="0.55">10 mg/L</text>
<rect x="738.8" y="613.2" width="12.5" height="12.5" fill="#8c8c8a" stroke="#111" stroke-width="2"/>
<text x="759.5" y="628.1" class="tb" font-size="19.2" letter-spacing="0.55">20 mg/L</text>
<rect x="738.8" y="648.2" width="12.5" height="12.5" fill="#a59fca" stroke="#111" stroke-width="2"/>
<text x="759.5" y="663.1" class="tb" font-size="19.2" letter-spacing="0.55">50 mg/L</text>
<rect x="738.8" y="683.0" width="12.5" height="12.5" fill="#f7cda0" stroke="#111" stroke-width="2"/>
<text x="759.5" y="697.9" class="tb" font-size="19.2" letter-spacing="0.55">100 mg/L</text>
</g>
<g clip-path="url(#clipL)">
<rect x="2" y="1006.5" width="457.3" height="501.3" fill="#aa8062"/>
<rect x="2" y="1006.5" width="457.3" height="501.3" fill="url(#glv)"/>
<rect x="2" y="1006.5" width="457.3" height="501.3" fill="url(#glh)"/>
<ellipse cx="140" cy="1190" rx="100" ry="55" fill="url(#rdark)" opacity="0.22"/>
<ellipse cx="50" cy="1420" rx="110" ry="120" fill="url(#rdark)" opacity="0.3"/>
<ellipse cx="330" cy="1060" rx="150" ry="60" fill="url(#rlight)" opacity="0.25"/>
<ellipse cx="108.6" cy="1052" rx="3.5" ry="4.55" fill="none" stroke="#8a6850" stroke-width="1.2" opacity="0.55" filter="url(#b1)"/>
<ellipse cx="309.5" cy="1094" rx="3.5" ry="4.55" fill="none" stroke="#8a6850" stroke-width="1.2" opacity="0.55" filter="url(#b1)"/>
<ellipse cx="278.6" cy="1158" rx="3.5" ry="4.55" fill="none" stroke="#8a6850" stroke-width="1.2" opacity="0.55" filter="url(#b1)"/>
<ellipse cx="133.3" cy="1188" rx="4" ry="5.2" fill="none" stroke="#8a6850" stroke-width="1.2" opacity="0.55" filter="url(#b1)"/>
<ellipse cx="422.9" cy="1062" rx="2.5" ry="3.25" fill="none" stroke="#8a6850" stroke-width="1.2" opacity="0.55" filter="url(#b1)"/>
<ellipse cx="216.7" cy="1032" rx="2.5" ry="3.25" fill="none" stroke="#8a6850" stroke-width="1.2" opacity="0.55" filter="url(#b1)"/>
<ellipse cx="49" cy="1436" rx="2" ry="2.6" fill="none" stroke="#8a6850" stroke-width="1.2" opacity="0.55" filter="url(#b1)"/>
<ellipse cx="426" cy="1383" rx="4" ry="5.2" fill="none" stroke="#8a6850" stroke-width="1.2" opacity="0.55" filter="url(#b1)"/>
<ellipse cx="375" cy="1362" rx="2.5" ry="3.25" fill="none" stroke="#8a6850" stroke-width="1.2" opacity="0.55" filter="url(#b1)"/>
<ellipse cx="203" cy="1261" rx="15" ry="20" fill="none" stroke="#caa084" stroke-width="1.3" opacity="0.6" filter="url(#b1)" transform="rotate(20 203 1261)"/>
<path d="M86,1400 L92,1445 M92,1398 L98,1446 M99,1402 L103,1440" stroke="#c9a080" stroke-width="1.5" opacity="0.5" filter="url(#b1)"/>
<g filter="url(#b08)">
<g transform="translate(27.0,1023.6) rotate(-50)"><path d="M-20.5,0 C-9.2,-8.6 9.2,-8.6 20.5,0 C9.2,6.9 -9.2,6.9 -20.5,0Z" fill="none" stroke="#c89a70" stroke-width="3.8000000000000003" opacity="0.9"/><path d="M-20.5,0 C-9.2,-8.6 9.2,-8.6 20.5,0 C9.2,6.9 -9.2,6.9 -20.5,0Z" fill="url(#cg0)" stroke="#4a4428" stroke-opacity="0.55" stroke-width="1.1"/></g>
<g transform="translate(32.7,1039.8) rotate(-39)"><path d="M-21.0,0 C-9.5,-9.0 9.5,-9.0 21.0,0 C9.5,7.2 -9.5,7.2 -21.0,0Z" fill="none" stroke="#c89a70" stroke-width="3.8000000000000003" opacity="0.9"/><path d="M-21.0,0 C-9.5,-9.0 9.5,-9.0 21.0,0 C9.5,7.2 -9.5,7.2 -21.0,0Z" fill="url(#cg0)" stroke="#4a4428" stroke-opacity="0.55" stroke-width="1.1"/></g>
<g transform="translate(126.0,1226.0) rotate(-5)"><path d="M-29.5,0 C-13.3,-12.7 13.3,-12.7 29.5,0 C13.3,8.1 -13.3,8.1 -29.5,0Z" fill="none" stroke="#ddb48c" stroke-width="3.8000000000000003" opacity="0.9"/><path d="M-29.5,0 C-13.3,-12.7 13.3,-12.7 29.5,0 C13.3,8.1 -13.3,8.1 -29.5,0Z" fill="url(#cg1)" stroke="#4a4428" stroke-opacity="0.55" stroke-width="1.1"/></g>
<g transform="translate(112.0,1250.0) rotate(21)"><path d="M-28.0,0 C-12.6,-13.0 12.6,-13.0 28.0,0 C12.6,10.4 -12.6,10.4 -28.0,0Z" fill="none" stroke="#ddb48c" stroke-width="3.8000000000000003" opacity="0.9"/><path d="M-28.0,0 C-12.6,-13.0 12.6,-13.0 28.0,0 C12.6,10.4 -12.6,10.4 -28.0,0Z" fill="url(#cg1)" stroke="#4a4428" stroke-opacity="0.55" stroke-width="1.1"/></g>
<g transform="translate(138.0,1245.0) rotate(16)"><path d="M-27.5,0 C-12.4,-13.0 12.4,-13.0 27.5,0 C12.4,10.4 -12.4,10.4 -27.5,0Z" fill="none" stroke="#ddb48c" stroke-width="3.8000000000000003" opacity="0.9"/><path d="M-27.5,0 C-12.4,-13.0 12.4,-13.0 27.5,0 C12.4,10.4 -12.4,10.4 -27.5,0Z" fill="url(#cg1)" stroke="#4a4428" stroke-opacity="0.55" stroke-width="1.1"/></g>
<g transform="translate(117.0,1273.0) rotate(8)"><path d="M-31.0,0 C-14.0,-16.4 14.0,-16.4 31.0,0 C14.0,6.8 -14.0,6.8 -31.0,0Z" fill="none" stroke="#ddb48c" stroke-width="3.8000000000000003" opacity="0.9"/><path d="M-31.0,0 C-14.0,-16.4 14.0,-16.4 31.0,0 C14.0,6.8 -14.0,6.8 -31.0,0Z" fill="url(#cg1)" stroke="#4a4428" stroke-opacity="0.55" stroke-width="1.1"/></g>
<g transform="translate(320.0,1237.0) rotate(-57)"><path d="M-30.5,0 C-13.7,-13.0 13.7,-13.0 30.5,0 C13.7,10.4 -13.7,10.4 -30.5,0Z" fill="none" stroke="#ddb48c" stroke-width="3.8000000000000003" opacity="0.9"/><path d="M-30.5,0 C-13.7,-13.0 13.7,-13.0 30.5,0 C13.7,10.4 -13.7,10.4 -30.5,0Z" fill="url(#cg2)" stroke="#4a4428" stroke-opacity="0.55" stroke-width="1.1"/></g>
<g transform="translate(340.0,1255.0) rotate(-31)"><path d="M-28.5,0 C-12.8,-14.4 12.8,-14.4 28.5,0 C12.8,11.5 -12.8,11.5 -28.5,0Z" fill="none" stroke="#ddb48c" stroke-width="3.8000000000000003" opacity="0.9"/><path d="M-28.5,0 C-12.8,-14.4 12.8,-14.4 28.5,0 C12.8,11.5 -12.8,11.5 -28.5,0Z" fill="url(#cg2)" stroke="#4a4428" stroke-opacity="0.55" stroke-width="1.1"/></g>
<g transform="translate(337.0,1277.0) rotate(-32)"><path d="M-27.5,0 C-12.4,-14.4 12.4,-14.4 27.5,0 C12.4,11.5 -12.4,11.5 -27.5,0Z" fill="none" stroke="#ddb48c" stroke-width="3.8000000000000003" opacity="0.9"/><path d="M-27.5,0 C-12.4,-14.4 12.4,-14.4 27.5,0 C12.4,11.5 -12.4,11.5 -27.5,0Z" fill="url(#cg2)" stroke="#4a4428" stroke-opacity="0.55" stroke-width="1.1"/></g>
<g transform="translate(355.0,1292.0) rotate(-56)"><path d="M-28.0,0 C-12.6,-15.8 12.6,-15.8 28.0,0 C12.6,12.7 -12.6,12.7 -28.0,0Z" fill="none" stroke="#ddb48c" stroke-width="3.8000000000000003" opacity="0.9"/><path d="M-28.0,0 C-12.6,-15.8 12.6,-15.8 28.0,0 C12.6,12.7 -12.6,12.7 -28.0,0Z" fill="url(#cg2)" stroke="#4a4428" stroke-opacity="0.55" stroke-width="1.1"/></g>
<g transform="translate(353.0,1329.0) rotate(-62)"><path d="M-23.5,0 C-10.6,-18.0 10.6,-18.0 23.5,0 C10.6,18.0 -10.6,18.0 -23.5,0Z" fill="none" stroke="#ddb48c" stroke-width="3.8000000000000003" opacity="0.9"/><path d="M-23.5,0 C-10.6,-18.0 10.6,-18.0 23.5,0 C10.6,18.0 -10.6,18.0 -23.5,0Z" fill="url(#cg2)" stroke="#4a4428" stroke-opacity="0.55" stroke-width="1.1"/></g>
<circle cx="118" cy="1224" r="3.5" fill="none" stroke="#6a6a30" stroke-width="1.3" opacity="0.8"/>
<circle cx="330" cy="1258" r="3.5" fill="none" stroke="#6a6a30" stroke-width="1.3" opacity="0.8"/>
<circle cx="345" cy="1289" r="3.5" fill="none" stroke="#6a6a30" stroke-width="1.3" opacity="0.8"/>
<circle cx="352" cy="1333" r="3.5" fill="none" stroke="#6a6a30" stroke-width="1.3" opacity="0.8"/>
</g>
<text x="44" y="1060.5" font-family="Liberation Sans" font-weight="bold" font-size="42" fill="#fff">c</text>
<text x="19" y="1471.4" font-family="Liberation Sans" font-size="24.5" fill="#fff"><tspan font-style="italic" letter-spacing="0.2">T. obliquus</tspan> <tspan font-weight="bold">(Control)</tspan></text>
<rect x="413.5" y="1488.5" width="30" height="4.3" fill="#fff"/>
</g>
<g clip-path="url(#clipR)">
<rect x="459.3" y="1005.2" width="505.6" height="501.6" fill="#bea182"/>
<rect x="459.3" y="1005.2" width="505.6" height="501.6" fill="url(#grv)"/>
<ellipse cx="488" cy="1028" rx="34" ry="32" fill="url(#rdark2)" opacity="0.5"/>
<ellipse cx="680" cy="1045" rx="55" ry="55" fill="url(#rdark2)" opacity="0.45"/>
<ellipse cx="735" cy="1075" rx="40" ry="45" fill="url(#rdark2)" opacity="0.3"/>
<ellipse cx="470" cy="1150" rx="30" ry="80" fill="url(#rdark2)" opacity="0.2"/>
<ellipse cx="600" cy="1330" rx="60" ry="60" fill="url(#rdark2)" opacity="0.15"/>
<circle cx="788" cy="1107.7" r="4" fill="#a89078" stroke="#d8c0a8" stroke-width="1.2" opacity="0.8" filter="url(#b06)"/>
<circle cx="792" cy="1154.8" r="5" fill="#a89078" stroke="#d8c0a8" stroke-width="1.2" opacity="0.8" filter="url(#b06)"/>
<circle cx="564" cy="1070" r="4" fill="#a89078" stroke="#d8c0a8" stroke-width="1.2" opacity="0.8" filter="url(#b06)"/>
<circle cx="520" cy="1135" r="3" fill="#a89078" stroke="#d8c0a8" stroke-width="1.2" opacity="0.8" filter="url(#b06)"/>
<circle cx="626" cy="1107" r="3" fill="#a89078" stroke="#d8c0a8" stroke-width="1.2" opacity="0.8" filter="url(#b06)"/>
<circle cx="631" cy="1158" r="3" fill="#a89078" stroke="#d8c0a8" stroke-width="1.2" opacity="0.8" filter="url(#b06)"/>
<circle cx="648.8" cy="1342.5" r="4.5" fill="#a89078" stroke="#d8c0a8" stroke-width="1.2" opacity="0.8" filter="url(#b06)"/>
<circle cx="941.5" cy="1061.4" r="6" fill="#e8d8c8" opacity="0.6" filter="url(#b1)"/>
<circle cx="941.5" cy="1061.4" r="4" fill="#3c4a3a" opacity="0.85" filter="url(#b06)"/>
<circle cx="888.5" cy="1116.6" r="6" fill="#e8d8c8" opacity="0.6" filter="url(#b1)"/>
<circle cx="888.5" cy="1116.6" r="4" fill="#3c4a3a" opacity="0.85" filter="url(#b06)"/>
<circle cx="879.6" cy="1167.4" r="6.5" fill="#e8d8c8" opacity="0.6" filter="url(#b1)"/>
<circle cx="879.6" cy="1167.4" r="4.5" fill="#3c4a3a" opacity="0.85" filter="url(#b06)"/>
<circle cx="704.7" cy="1178" r="8" fill="#e8d8c8" opacity="0.6" filter="url(#b1)"/>
<circle cx="704.7" cy="1178" r="6" fill="#3c4a3a" opacity="0.85" filter="url(#b06)"/>
<circle cx="611" cy="1322.3" r="6" fill="#e8d8c8" opacity="0.6" filter="url(#b1)"/>
<circle cx="611" cy="1322.3" r="4" fill="#3c4a3a" opacity="0.85" filter="url(#b06)"/>
<circle cx="809.4" cy="1317" r="5.5" fill="#e8d8c8" opacity="0.6" filter="url(#b1)"/>
<circle cx="809.4" cy="1317" r="3.5" fill="#3c4a3a" opacity="0.85" filter="url(#b06)"/>
<circle cx="915.5" cy="1321" r="5.5" fill="#e8d8c8" opacity="0.6" filter="url(#b1)"/>
<circle cx="915.5" cy="1321" r="3.5" fill="#3c4a3a" opacity="0.85" filter="url(#b06)"/>
<g filter="url(#b06)">
<ellipse cx="605.7" cy="1068.6" rx="11" ry="12" fill="#e0d0c0" opacity="0.45"/>
<circle cx="601.7" cy="1063.6" r="3.5" fill="#2f5a38"/>
<circle cx="608.7" cy="1064.6" r="3" fill="#2f5a38"/>
<circle cx="600.7" cy="1070.6" r="3.5" fill="#2f5a38"/>
<circle cx="607.7" cy="1072.6" r="3.5" fill="#2f5a38"/>
<circle cx="610.7" cy="1067.6" r="2.5" fill="#2f5a38"/>
<circle cx="604.7" cy="1068.6" r="2.5" fill="#2f5a38"/>
</g>
<g transform="translate(568.9,1195.7) rotate(14)" filter="url(#b06)">
<ellipse rx="30.5" ry="20.5" fill="#e4c8b8" opacity="0.8"/>
<ellipse rx="28" ry="18" fill="#9a8468"/>
<ellipse cx="1.4" cy="11.8" rx="3.3" ry="1.9" fill="#2f4f28" opacity="0.9"/>
<ellipse cx="-17.7" cy="-6.1" rx="2.0" ry="1.5" fill="#d0b0a0" opacity="0.9"/>
<ellipse cx="17.8" cy="-0.3" rx="2.5" ry="2.1" fill="#5a4030" opacity="0.9"/>
<ellipse cx="12.1" cy="10.3" rx="2.3" ry="1.2" fill="#5a4030" opacity="0.9"/>
<ellipse cx="1.8" cy="-6.3" rx="1.6" ry="2.3" fill="#5a4030" opacity="0.9"/>
<ellipse cx="6.0" cy="-7.4" rx="2.9" ry="2.4" fill="#5a4030" opacity="0.9"/>
<ellipse cx="-5.6" cy="-15.0" rx="3.0" ry="2.0" fill="#d0b0a0" opacity="0.9"/>
<ellipse cx="9.3" cy="-1.3" rx="1.7" ry="1.4" fill="#2f4f28" opacity="0.9"/>
<ellipse cx="5.3" cy="15.4" rx="3.1" ry="2.4" fill="#d0b0a0" opacity="0.9"/>
<ellipse cx="-20.9" cy="6.9" rx="2.2" ry="2.0" fill="#5a4030" opacity="0.9"/>
<ellipse cx="-21.3" cy="-7.7" rx="3.3" ry="1.2" fill="#2f4f28" opacity="0.9"/>
<ellipse cx="-3.8" cy="12.2" rx="1.8" ry="2.4" fill="#2f4f28" opacity="0.9"/>
<ellipse cx="24.1" cy="-3.4" rx="1.7" ry="2.1" fill="#5a4030" opacity="0.9"/>
<ellipse cx="-17.3" cy="-11.8" rx="2.1" ry="1.3" fill="#2f4f28" opacity="0.9"/>
<ellipse cx="15.7" cy="-12.6" rx="2.2" ry="1.3" fill="#3a6a30" opacity="0.9"/>
<ellipse cx="2.9" cy="-1.4" rx="3.0" ry="2.4" fill="#d0b0a0" opacity="0.9"/>
<ellipse cx="19.6" cy="3.4" rx="2.3" ry="2.0" fill="#3a6a30" opacity="0.9"/>
<ellipse cx="-23.7" cy="-4.8" rx="2.5" ry="2.6" fill="#2f4f28" opacity="0.9"/>
<ellipse cx="-2.6" cy="4.1" rx="2.6" ry="2.5" fill="#5a4030" opacity="0.9"/>
<ellipse cx="13.8" cy="-1.5" rx="1.8" ry="1.3" fill="#2f4f28" opacity="0.9"/>
<ellipse cx="9.8" cy="-6.6" rx="3.3" ry="1.7" fill="#4a7a38" opacity="0.9"/>
<ellipse cx="-18.2" cy="2.8" rx="3.2" ry="2.2" fill="#2f4f28" opacity="0.9"/>
<ellipse cx="20.5" cy="9.5" rx="2.0" ry="2.1" fill="#5a4030" opacity="0.9"/>
<ellipse cx="-5.4" cy="-15.1" rx="3.5" ry="1.9" fill="#d0b0a0" opacity="0.9"/>
<ellipse cx="-2.7" cy="-0.5" rx="3.5" ry="1.6" fill="#d0b0a0" opacity="0.9"/>
<ellipse cx="-14.2" cy="8.6" rx="1.6" ry="2.1" fill="#4a7a38" opacity="0.9"/>
<ellipse cx="-20.9" cy="2.8" rx="2.7" ry="1.6" fill="#2f4f28" opacity="0.9"/>
<ellipse cx="-19.9" cy="0.8" rx="1.5" ry="1.7" fill="#2f4f28" opacity="0.9"/>
<ellipse cx="-9.9" cy="-6.3" rx="2.1" ry="1.7" fill="#5a4030" opacity="0.9"/>
<ellipse cx="-6.1" cy="9.0" rx="2.0" ry="2.3" fill="#5a4030" opacity="0.9"/>
<ellipse cx="18.5" cy="8.8" rx="2.9" ry="1.4" fill="#5a4030" opacity="0.9"/>
<ellipse cx="-21.0" cy="-0.0" rx="2.0" ry="1.5" fill="#2f4f28" opacity="0.9"/>
<ellipse cx="-19.9" cy="5.3" rx="2.7" ry="2.5" fill="#3a6a30" opacity="0.9"/>
<ellipse cx="-5.6" cy="-6.8" rx="1.7" ry="2.2" fill="#4a7a38" opacity="0.9"/>
<ellipse cx="3.9" cy="11.8" rx="2.0" ry="1.4" fill="#2f4f28" opacity="0.9"/>
<ellipse cx="-11.2" cy="-1.3" rx="1.9" ry="1.6" fill="#5a4030" opacity="0.9"/>
<ellipse cx="7.3" cy="-12.0" rx="2.2" ry="1.4" fill="#5a4030" opacity="0.9"/>
<ellipse cx="-6.0" cy="13.8" rx="2.4" ry="2.1" fill="#2f4f28" opacity="0.9"/>
<ellipse cx="-4.9" cy="11.7" rx="3.3" ry="1.4" fill="#3a6a30" opacity="0.9"/>
<ellipse cx="25.2" cy="0.5" rx="3.5" ry="1.8" fill="#5a4030" opacity="0.9"/>
<ellipse cx="23.8" cy="-4.7" rx="1.6" ry="1.8" fill="#4a7a38" opacity="0.9"/>
<ellipse cx="0.5" cy="-13.8" rx="2.6" ry="2.4" fill="#2f4f28" opacity="0.9"/>
<ellipse cx="15.5" cy="-11.3" rx="1.7" ry="1.5" fill="#2f4f28" opacity="0.9"/>
<ellipse cx="22.7" cy="3.1" rx="3.3" ry="2.5" fill="#5a4030" opacity="0.9"/>
<ellipse cx="16.0" cy="-7.2" rx="2.5" ry="1.4" fill="#3a6a30" opacity="0.9"/>
<ellipse cx="-12.7" cy="-0.2" rx="2.5" ry="1.8" fill="#3a6a30" opacity="0.9"/>
<ellipse cx="18.9" cy="-4.7" rx="1.8" ry="2.6" fill="#2f4f28" opacity="0.9"/>
<ellipse cx="-22.7" cy="-3.7" rx="2.2" ry="1.5" fill="#3a6a30" opacity="0.9"/>
<ellipse cx="-22.9" cy="-3.1" rx="2.0" ry="1.6" fill="#4a7a38" opacity="0.9"/>
<ellipse cx="7.2" cy="-3.7" rx="2.5" ry="2.0" fill="#3a6a30" opacity="0.9"/>
<ellipse cx="-18.3" cy="8.2" rx="2.0" ry="1.9" fill="#4a7a38" opacity="0.9"/>
<ellipse cx="-15.8" cy="5.1" rx="3.2" ry="2.3" fill="#3a6a30" opacity="0.9"/>
<ellipse cx="5.6" cy="1.0" rx="3.4" ry="2.4" fill="#d0b0a0" opacity="0.9"/>
<ellipse cx="15.8" cy="5.8" rx="1.8" ry="1.3" fill="#2f4f28" opacity="0.9"/>
<ellipse cx="-12.2" cy="6.6" rx="2.2" ry="1.5" fill="#2f4f28" opacity="0.9"/>
<ellipse cx="-4.3" cy="5.0" rx="1.5" ry="2.2" fill="#5a4030" opacity="0.9"/>
<ellipse cx="5.5" cy="-11.6" rx="2.2" ry="2.0" fill="#3a6a30" opacity="0.9"/>
<ellipse cx="3.3" cy="-9.7" rx="2.7" ry="1.8" fill="#3a6a30" opacity="0.9"/>
<ellipse cx="-12.7" cy="8.1" rx="2.1" ry="2.5" fill="#2f4f28" opacity="0.9"/>
<ellipse cx="-3.0" cy="1.1" rx="2.6" ry="2.2" fill="#4a7a38" opacity="0.9"/>
<ellipse cx="15.3" cy="4.5" rx="1.8" ry="1.2" fill="#d0b0a0" opacity="0.9"/>
<ellipse cx="-11.7" cy="14.0" rx="3.1" ry="1.6" fill="#5a4030" opacity="0.9"/>
<ellipse cx="-8.9" cy="1.3" rx="2.8" ry="2.4" fill="#2f4f28" opacity="0.9"/>
<ellipse cx="5.6" cy="-12.6" rx="2.1" ry="1.9" fill="#2f4f28" opacity="0.9"/>
<ellipse cx="8.3" cy="-12.5" rx="1.8" ry="2.3" fill="#d0b0a0" opacity="0.9"/>
<ellipse cx="7.6" cy="1.3" rx="2.8" ry="1.7" fill="#3a6a30" opacity="0.9"/>
<ellipse cx="6.4" cy="-8.5" rx="1.6" ry="1.4" fill="#3a6a30" opacity="0.9"/>
<ellipse cx="-21.6" cy="1.5" rx="2.7" ry="2.3" fill="#2f4f28" opacity="0.9"/>
<ellipse cx="22.2" cy="3.2" rx="2.6" ry="1.5" fill="#5a4030" opacity="0.9"/>
<ellipse cx="-7.7" cy="-1.7" rx="1.6" ry="1.7" fill="#5a4030" opacity="0.9"/>
<ellipse cx="-21.8" cy="-5.7" rx="3.5" ry="2.1" fill="#4a7a38" opacity="0.9"/>
<ellipse cx="-20.9" cy="3.8" rx="2.0" ry="2.0" fill="#d0b0a0" opacity="0.9"/>
<ellipse cx="18.0" cy="-4.5" rx="2.3" ry="1.5" fill="#3a6a30" opacity="0.9"/>
<ellipse cx="21.6" cy="-6.3" rx="2.3" ry="2.0" fill="#4a7a38" opacity="0.9"/>
<ellipse cx="-21.9" cy="-7.4" rx="2.5" ry="2.1" fill="#2f4f28" opacity="0.9"/>
<ellipse cx="8.0" cy="-3.7" rx="2.5" ry="1.9" fill="#3a6a30" opacity="0.9"/>
<ellipse cx="-8.0" cy="-14.8" rx="2.9" ry="1.5" fill="#5a4030" opacity="0.9"/>
<ellipse cx="-1.3" cy="7.1" rx="2.5" ry="2.5" fill="#5a4030" opacity="0.9"/>
<ellipse cx="11.4" cy="-9.4" rx="2.8" ry="2.4" fill="#2f4f28" opacity="0.9"/>
<ellipse cx="-16.4" cy="-6.9" rx="3.3" ry="1.6" fill="#2f4f28" opacity="0.9"/>
<ellipse cx="-2.6" cy="14.3" rx="1.8" ry="1.7" fill="#4a7a38" opacity="0.9"/>
<ellipse cx="-10.0" cy="12.7" rx="2.3" ry="2.2" fill="#4a7a38" opacity="0.9"/>
<ellipse cx="-3.5" cy="-6.9" rx="3.2" ry="2.4" fill="#5a4030" opacity="0.9"/>
<ellipse cx="-16.9" cy="-3.9" rx="1.6" ry="2.5" fill="#2f4f28" opacity="0.9"/>
<ellipse cx="5.0" cy="-14.7" rx="2.4" ry="1.5" fill="#3a6a30" opacity="0.9"/>
<ellipse cx="2.1" cy="13.5" rx="1.6" ry="1.5" fill="#2f4f28" opacity="0.9"/>
<ellipse cx="-0.6" cy="15.1" rx="1.8" ry="2.1" fill="#2f4f28" opacity="0.9"/>
<ellipse cx="-2.3" cy="-2.7" rx="1.8" ry="1.3" fill="#2f4f28" opacity="0.9"/>
<ellipse cx="3.2" cy="4.4" rx="1.7" ry="1.6" fill="#3a6a30" opacity="0.9"/>
<ellipse cx="4.2" cy="-1.6" rx="2.7" ry="2.1" fill="#d0b0a0" opacity="0.9"/>
<ellipse cx="15.0" cy="0.4" rx="2.3" ry="1.3" fill="#d0b0a0" opacity="0.9"/>
<ellipse cx="-13.8" cy="-10.9" rx="2.3" ry="2.0" fill="#d0b0a0" opacity="0.9"/>
<ellipse cx="10.0" cy="5.7" rx="2.4" ry="1.8" fill="#2f4f28" opacity="0.9"/>
<ellipse cx="-12.8" cy="-1.4" rx="3.4" ry="1.7" fill="#5a4030" opacity="0.9"/>
<ellipse cx="3.2" cy="-13.8" rx="2.8" ry="2.1" fill="#2f4f28" opacity="0.9"/>
<ellipse cx="22.1" cy="-5.0" rx="3.0" ry="2.5" fill="#3a6a30" opacity="0.9"/>
<ellipse cx="-8.9" cy="-10.4" rx="2.8" ry="1.9" fill="#3a6a30" opacity="0.9"/>
<ellipse cx="13.1" cy="3.2" rx="2.6" ry="1.5" fill="#2f4f28" opacity="0.9"/>
<ellipse cx="-12.6" cy="-10.1" rx="2.2" ry="2.5" fill="#4a7a38" opacity="0.9"/>
<ellipse cx="-8.2" cy="1.5" rx="1.8" ry="1.7" fill="#5a4030" opacity="0.9"/>
<ellipse cx="-3.7" cy="-12.2" rx="2.1" ry="1.5" fill="#5a4030" opacity="0.9"/>
<ellipse cx="-22.9" cy="1.6" rx="1.6" ry="2.2" fill="#2f4f28" opacity="0.9"/>
<ellipse cx="0.5" cy="-11.8" rx="2.3" ry="1.3" fill="#2f4f28" opacity="0.9"/>
<ellipse cx="-0.8" cy="3.7" rx="1.6" ry="1.9" fill="#4a7a38" opacity="0.9"/>
<ellipse cx="0.4" cy="14.0" rx="3.3" ry="2.5" fill="#2f4f28" opacity="0.9"/>
<ellipse cx="-22.2" cy="4.6" rx="2.2" ry="2.4" fill="#3a6a30" opacity="0.9"/>
<ellipse cx="10.3" cy="5.4" rx="2.9" ry="2.0" fill="#3a6a30" opacity="0.9"/>
<ellipse cx="7.3" cy="-2.9" rx="1.9" ry="1.8" fill="#2f4f28" opacity="0.9"/>
<ellipse cx="-1.0" cy="-14.4" rx="1.8" ry="2.1" fill="#2f4f28" opacity="0.9"/>
<ellipse cx="14.8" cy="-11.0" rx="2.6" ry="2.0" fill="#5a4030" opacity="0.9"/>
</g>
<g filter="url(#b06)">
<path d="M533,1317 C545,1300 560,1294 575,1295 C590,1297 598,1306 602,1313 C585,1318 555,1320 533,1317Z" fill="#c2a48c" stroke="#e8d8cc" stroke-width="1.6"/>
<ellipse cx="568.7" cy="1307.5" rx="18" ry="7.5" fill="#5c8a3c" stroke="#2c5a28" stroke-width="1.2"/>
<circle cx="560" cy="1307" r="3.5" fill="#2c5a28"/><circle cx="575" cy="1308" r="3" fill="#3a6a30"/>
</g>
<g filter="url(#b08)">
<g transform="translate(653.0,1264.0) rotate(-54)"><path d="M-28.0,0 C-12.6,-11.5 12.6,-11.5 28.0,0 C12.6,11.5 -12.6,11.5 -28.0,0Z" fill="none" stroke="#e4d0c0" stroke-width="3.8000000000000003" opacity="0.9"/><path d="M-28.0,0 C-12.6,-11.5 12.6,-11.5 28.0,0 C12.6,11.5 -12.6,11.5 -28.0,0Z" fill="url(#cg3)" stroke="#4a4428" stroke-opacity="0.55" stroke-width="1.1"/></g>
<circle cx="651" cy="1266" r="3" fill="#3a5a28"/>
<g transform="translate(721.4,1312.5) rotate(-12)"><ellipse rx="32.8" ry="16.3" fill="#e0d2b8"/><ellipse rx="31.3" ry="14.8" fill="#7c8c3e"/><ellipse cx="2" cy="0" rx="14" ry="7" fill="#b8a070" opacity="0.7"/></g>
<circle cx="705.9" cy="1310.6" r="5.2" fill="#34582c" stroke="#a0a060" stroke-width="1.2"/>
<circle cx="713" cy="1319.6" r="5.2" fill="#34582c" stroke="#a0a060" stroke-width="1.2"/>
<circle cx="734.9" cy="1305.4" r="5.2" fill="#34582c" stroke="#a0a060" stroke-width="1.2"/>
<path d="M823.6,1284.7 C825,1262 838,1242 860,1234 C874,1229 886,1228 893.5,1229 C888,1236 878,1244 866,1250 C850,1258 836,1268 823.6,1284.7Z" fill="#b4a088" stroke="#ecdcd0" stroke-width="2"/>
<ellipse cx="831" cy="1268" rx="3.5" ry="6" transform="rotate(30 831 1268)" fill="#3a6a2c"/>
<ellipse cx="838" cy="1255" rx="6" ry="5" transform="rotate(0 838 1255)" fill="#3a6a2c"/>
<ellipse cx="850" cy="1246" rx="5" ry="4" transform="rotate(-20 850 1246)" fill="#3a6a2c"/>
<ellipse cx="862" cy="1240" rx="6" ry="4.5" transform="rotate(-20 862 1240)" fill="#3a6a2c"/>
<ellipse cx="877" cy="1236" rx="5" ry="3.5" transform="rotate(-15 877 1236)" fill="#3a6a2c"/>
<ellipse cx="845" cy="1255" rx="3" ry="3" transform="rotate(0 845 1255)" fill="#3a6a2c"/>
<ellipse cx="894" cy="1264.6" rx="27.5" ry="21" fill="#e2d0c0"/>
<ellipse cx="894" cy="1264.6" rx="26.3" ry="19.8" fill="#a8a850"/>
<ellipse cx="882" cy="1255.6" rx="12" ry="9" fill="#3f6c28"/>
<ellipse cx="884.4" cy="1260.1" rx="4.5" ry="3" fill="#a8a050" opacity="0.8"/>
<ellipse cx="906" cy="1256.6" rx="12" ry="9" fill="#3f6c28"/>
<ellipse cx="903.6" cy="1260.6" rx="4.5" ry="3" fill="#a8a050" opacity="0.8"/>
<ellipse cx="883" cy="1273.6" rx="12" ry="9" fill="#3f6c28"/>
<ellipse cx="885.2" cy="1269.1" rx="4.5" ry="3" fill="#a8a050" opacity="0.8"/>
<ellipse cx="906" cy="1273.6" rx="12" ry="9" fill="#3f6c28"/>
<ellipse cx="903.6" cy="1269.1" rx="4.5" ry="3" fill="#a8a050" opacity="0.8"/>
<g transform="translate(856.7,1417.8) rotate(-32)"><ellipse rx="18" ry="11" fill="#e4d4b8"/><ellipse rx="16.3" ry="9.3" fill="#72843a"/><circle cx="2" cy="0" r="4" fill="#2e5a2c"/></g>
<ellipse cx="930" cy="1404" rx="24" ry="14" fill="#e8dccc" opacity="0.35" filter="url(#b1)"/>
<circle cx="912" cy="1398" r="4.5" fill="#3e3028" opacity="0.85"/>
<circle cx="916" cy="1405" r="4.5" fill="#3e3028" opacity="0.85"/>
<circle cx="920" cy="1411" r="4" fill="#3e3028" opacity="0.85"/>
<circle cx="924" cy="1399" r="3.5" fill="#3e3028" opacity="0.85"/>
<circle cx="931" cy="1404" r="3.5" fill="#3e3028" opacity="0.85"/>
<circle cx="938" cy="1400" r="3.5" fill="#3e3028" opacity="0.85"/>
<circle cx="944" cy="1406" r="3.5" fill="#3e3028" opacity="0.85"/>
<circle cx="948" cy="1399" r="3" fill="#3e3028" opacity="0.85"/>
<circle cx="935" cy="1410" r="3" fill="#3e3028" opacity="0.85"/>
<circle cx="956" cy="1356" r="3" fill="#4a3a30" opacity="0.8"/>
<circle cx="961" cy="1362" r="3" fill="#4a3a30" opacity="0.8"/>
<circle cx="954" cy="1366" r="2.5" fill="#4a3a30" opacity="0.8"/>
</g>
<path d="M564.8,1126.2 L572.9,1126.2 L572.9,1153.5 L574.7,1153.5 L568.8499999999999,1171.7 L562.3,1153.5 L564.8,1153.5Z" fill="#fbe12a"/>
<path d="M554.6,1242.9 L561.8,1242.9 L561.8,1270.5 L564.2,1270.5 L558.2,1288.6 L551.9,1270.5 L554.6,1270.5Z" fill="#fbe12a"/>
<path d="M833.9,1188.4 L840.6,1188.4 L840.6,1216 L843,1216 L837.25,1234.2 L831.5,1216 L833.9,1216Z" fill="#fbe12a"/>
<text x="482.5" y="1435.3" font-family="Liberation Sans" font-weight="bold" font-size="24.5" fill="#fff">Treatment <tspan dx="6">of</tspan> <tspan font-style="italic" font-weight="normal">T. obliquus</tspan></text>
<text x="482.5" y="1466.3" font-family="Liberation Sans" font-weight="bold" font-size="24.5" fill="#fff">with 100 mg/L ZnFe-SO4 LDH</text>
<rect x="915.2" y="1484" width="30" height="3.9" fill="#fff"/>
</g>
</svg>
</body></html>
